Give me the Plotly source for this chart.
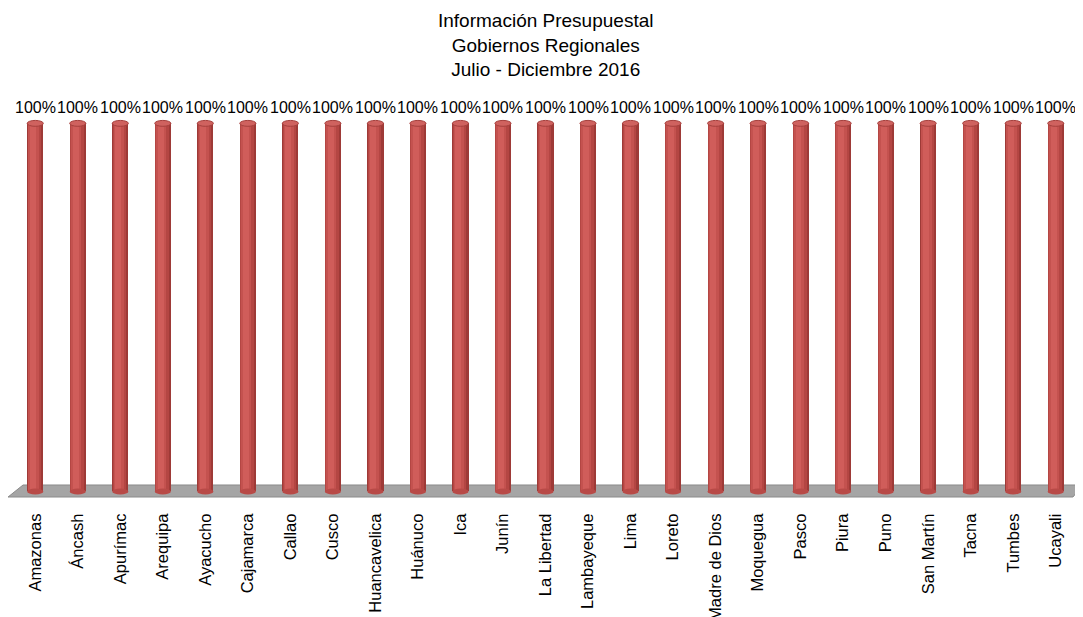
import plotly.graph_objects as go

regions = ["Amazonas", "Áncash", "Apurímac", "Arequipa", "Ayacucho", "Cajamarca", "Callao",
           "Cusco", "Huancavelica", "Huánuco", "Ica", "Junín", "La Libertad", "Lambayeque",
           "Lima", "Loreto", "Madre de Dios", "Moquegua", "Pasco", "Piura", "Puno",
           "San Martín", "Tacna", "Tumbes", "Ucayali"]
values = [100] * len(regions)
labels = [f"{v}%" for v in values]
title_lines = ["Información Presupuestal", "Gobiernos Regionales", "Julio - Diciembre 2016"]

FONT = "Liberation Sans, Arial, sans-serif"
x_idx = list(range(len(regions)))

fig = go.Figure()
# cylinder shading layers (outer dark -> inner light)
layers = [(0.38, 0.0, "#9e3a37"), (0.32, -0.02, "#b44643"), (0.24, -0.04, "#c4524f"),
          (0.14, -0.05, "#d05d5a")]
for w, shift, col in layers:
    fig.add_trace(go.Bar(x=x_idx, y=values, width=w, offset=-w / 2 + shift,
                         marker=dict(color=col, line=dict(width=0)),
                         hoverinfo="skip", showlegend=False, cliponaxis=False))

shapes = []
# floor
shapes.append(dict(type="path", xref="paper", yref="paper",
                   path="M -0.0056,0 L 0.0085,0.0315 L 1.0056,0.0315 L 0.9962,0 Z",
                   fillcolor="#a5a5a5", line=dict(color="#8a8a8a", width=1), layer="below"))
# cylinder caps (bottom and top ellipses)
for i, v in zip(x_idx, values):
    shapes.append(dict(type="circle", xref="x", yref="y", x0=i - 0.19, x1=i + 0.19, y0=-0.8, y1=0.8,
                       fillcolor="#b84a47", line=dict(width=0), layer="above"))
    shapes.append(dict(type="circle", xref="x", yref="y", x0=i - 0.19, x1=i + 0.19, y0=v - 0.8, y1=v + 0.8,
                       fillcolor="#cf625f", line=dict(color="#a5403d", width=1), layer="above"))

annotations = [dict(text="<br>".join(title_lines), xref="paper", yref="paper", x=0.5, y=1,
                    yshift=34, yanchor="bottom", xanchor="center", showarrow=False,
                    font=dict(family=FONT, size=19, color="#000000"))]
for i, v, t in zip(x_idx, values, labels):
    annotations.append(dict(text=t, x=i, y=v, xref="x", yref="y", showarrow=False,
                            yanchor="bottom", yshift=5,
                            font=dict(family=FONT, size=16, color="#000000")))

fig.update_layout(
    width=1075, height=609,
    margin=dict(l=6, r=6, t=108, b=120),
    paper_bgcolor="white", plot_bgcolor="white",
    barmode="overlay", bargap=0,
    shapes=shapes,
    annotations=annotations,
    font=dict(family=FONT, size=16, color="#000000"),
    xaxis=dict(range=[-0.5, len(regions) - 0.5], tickmode="array", tickvals=x_idx, ticktext=regions,
               tickangle=-90, ticks="outside", ticklen=9, tickcolor="rgba(0,0,0,0)",
               showgrid=False, zeroline=False, showline=False, automargin=False,
               tickfont=dict(family=FONT, size=16.5, color="#000000")),
    yaxis=dict(range=[-1.5, 102], visible=False, showgrid=False, zeroline=False, automargin=False),
)

fig.write_html("out.html")
